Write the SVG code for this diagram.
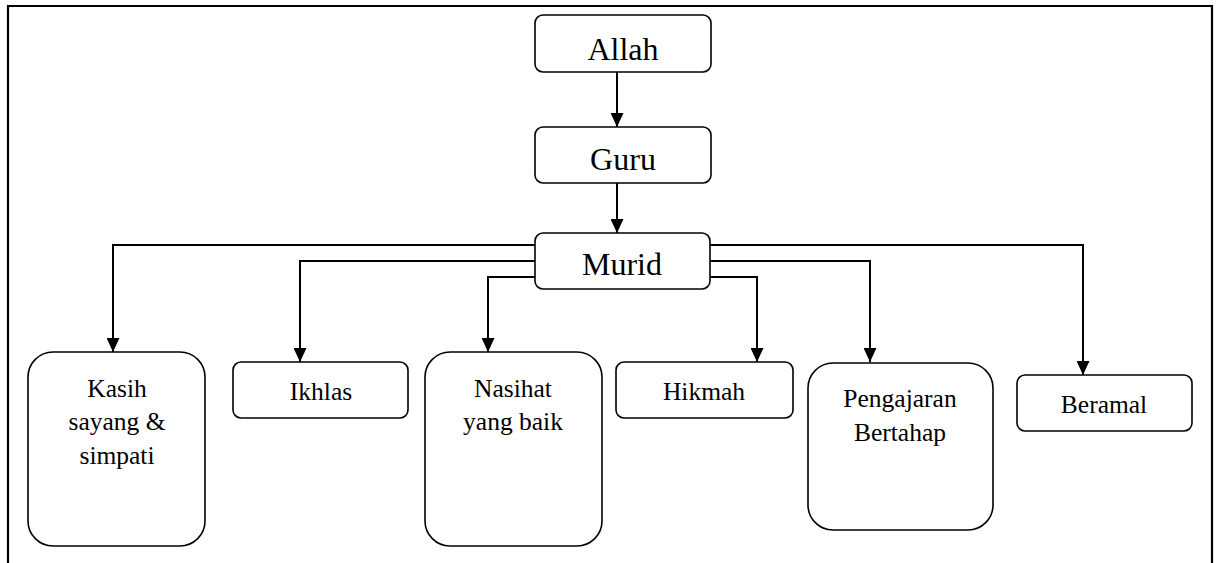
<svg xmlns="http://www.w3.org/2000/svg" width="1216" height="563" viewBox="0 0 1216 563">
<style>
.box{fill:#fff;stroke:#000;stroke-width:1.6}
.frame{fill:none;stroke:#000;stroke-width:2.2}
.lbl{font-family:"Liberation Serif","Times New Roman",serif;fill:#000;text-anchor:middle}
.big{font-size:32px}
.sm{font-size:25.5px}
.con{fill:none;stroke:#000;stroke-width:2;marker-end:url(#ah)}
</style>
<defs>
<marker id="ah" viewBox="0 0 14 13" refX="14" refY="6.5" markerWidth="14" markerHeight="13" markerUnits="userSpaceOnUse" orient="auto">
<path d="M0,0 L14,6.5 L0,13 Z" fill="#000"/>
</marker>
</defs>
<rect width="1216" height="563" fill="#fff"/>
<path class="frame" d="M8,563 V6 H1212 V563"/>
<g id="connectors">
<path class="con" d="M617,72 V127"/>
<path class="con" d="M617,183 V233"/>
<path class="con" d="M535,245 H113 V352"/>
<path class="con" d="M535,261 H300 V362"/>
<path class="con" d="M535,277 H488 V352"/>
<path class="con" d="M710,277 H757 V362"/>
<path class="con" d="M710,261 H870 V362"/>
<path class="con" d="M710,245 H1083 V375"/>
</g>
<g id="allah">
<rect class="box" x="535" y="15" width="176" height="57" rx="8"/>
<text class="lbl big" x="623" y="60">Allah</text>
</g>
<g id="guru">
<rect class="box" x="535" y="127" width="176" height="56" rx="8"/>
<text class="lbl big" x="623" y="170">Guru</text>
</g>
<g id="murid">
<rect class="box" x="535" y="233" width="175" height="56" rx="8"/>
<text class="lbl big" x="622" y="275">Murid</text>
</g>
<g id="kasih">
<rect class="box" x="28" y="352" width="177" height="194" rx="25"/>
<text class="lbl sm" x="117" y="397">Kasih</text>
<text class="lbl sm" x="117" y="430">sayang &amp;</text>
<text class="lbl sm" x="117" y="464">simpati</text>
</g>
<g id="ikhlas">
<rect class="box" x="233" y="362" width="175" height="56" rx="8"/>
<text class="lbl sm" x="321" y="400">Ikhlas</text>
</g>
<g id="nasihat">
<rect class="box" x="425" y="352" width="177" height="194" rx="25"/>
<text class="lbl sm" x="513" y="397">Nasihat</text>
<text class="lbl sm" x="513" y="430">yang baik</text>
</g>
<g id="hikmah">
<rect class="box" x="616" y="362" width="177" height="56" rx="8"/>
<text class="lbl sm" x="704" y="400">Hikmah</text>
</g>
<g id="pengajaran">
<rect class="box" x="808" y="363" width="185" height="167" rx="25"/>
<text class="lbl sm" x="900" y="407">Pengajaran</text>
<text class="lbl sm" x="900" y="441">Bertahap</text>
</g>
<g id="beramal">
<rect class="box" x="1017" y="375" width="175" height="56" rx="8"/>
<text class="lbl sm" x="1104" y="413">Beramal</text>
</g>
</svg>
